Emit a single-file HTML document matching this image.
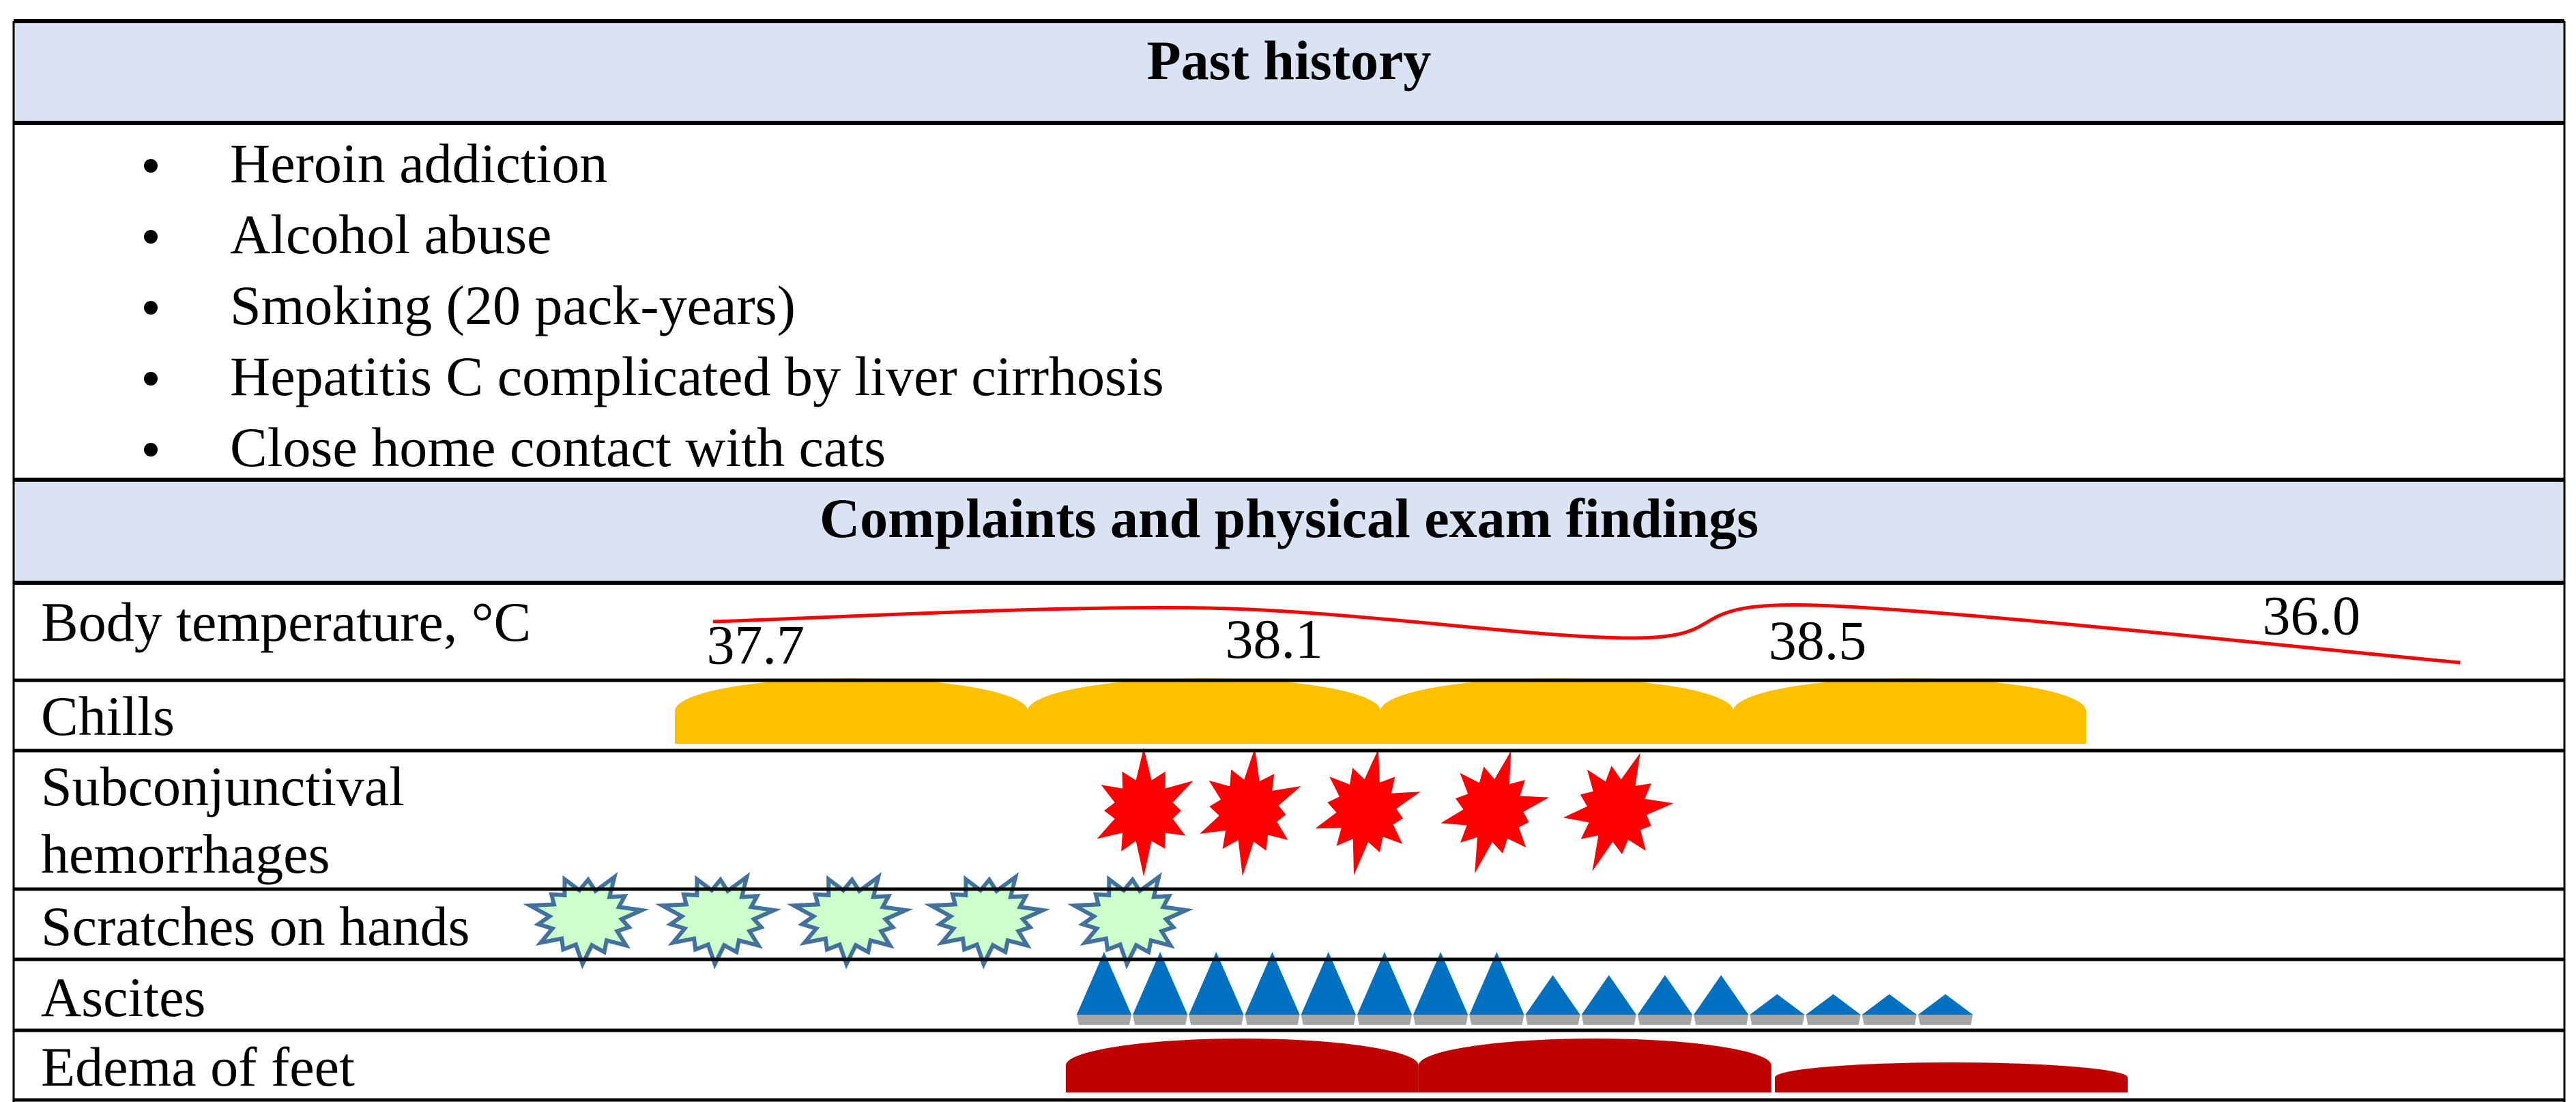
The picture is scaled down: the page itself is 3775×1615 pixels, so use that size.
<!DOCTYPE html>
<html><head><meta charset="utf-8"><style>
html,body{margin:0;padding:0;background:#fff;}
svg{display:block;}
text{font-family:"Liberation Serif","Times New Roman",serif;fill:#000;}
</style></head><body>
<svg id="chart" width="3775" height="1615" viewBox="0 0 3775 1615" xmlns="http://www.w3.org/2000/svg">
<rect x="0" y="0" width="3775" height="1615" fill="#fff"/>
<rect x="20" y="31" width="3738" height="149" fill="#dae3f3"/>
<rect x="20" y="703" width="3738" height="150" fill="#dae3f3"/>
<text x="1889" y="116" text-anchor="middle" font-size="82" font-weight="bold">Past history</text>
<g font-size="82">
<circle cx="221" cy="243" r="10"/><text x="337" y="267">Heroin addiction</text>
<circle cx="221" cy="347" r="10"/><text x="337" y="371">Alcohol abuse</text>
<circle cx="221" cy="451" r="10"/><text x="337" y="475">Smoking (20 pack-years)</text>
<circle cx="221" cy="555" r="10"/><text x="337" y="579">Hepatitis C complicated by liver cirrhosis</text>
<circle cx="221" cy="659" r="10"/><text x="337" y="683">Close home contact with cats</text>
</g>
<text x="1889" y="787" text-anchor="middle" font-size="82" font-weight="bold">Complaints and physical exam findings</text>
<g font-size="82">
<text x="60" y="939">Body temperature, °C</text>
<text x="60" y="1077">Chills</text>
<text x="60" y="1180">Subconjunctival</text>
<text x="60" y="1279">hemorrhages</text>
<text x="60" y="1385">Scratches on hands</text>
<text x="60" y="1489">Ascites</text>
<text x="60" y="1591">Edema of feet</text>
</g>
<g id="marks"></g>
<g stroke="#000" fill="none">
<line x1="20" y1="31" x2="3758" y2="31" stroke-width="6"/>
<line x1="20" y1="180" x2="3758" y2="180" stroke-width="6"/>
<line x1="20" y1="703" x2="3758" y2="703" stroke-width="6"/>
<line x1="20" y1="854" x2="3758" y2="854" stroke-width="6"/>
<line x1="20" y1="997" x2="3758" y2="997" stroke-width="5"/>
<line x1="20" y1="1100" x2="3758" y2="1100" stroke-width="5"/>
<line x1="20" y1="1303" x2="3758" y2="1303" stroke-width="5"/>
<line x1="20" y1="1406" x2="3758" y2="1406" stroke-width="5"/>
<line x1="20" y1="1510" x2="3758" y2="1510" stroke-width="5"/>
<line x1="20" y1="1612" x2="3758" y2="1612" stroke-width="5"/>
<line x1="20" y1="31" x2="20" y2="1615" stroke-width="3"/>
<line x1="3758" y1="31" x2="3758" y2="1615" stroke-width="3"/>
</g>
</svg>
<script>
// ---- data (time in days) ----
const tempDays = [0.108, 1.5, 2.72, 3.23, 5.06];
const tempLevels = [0.55, 0.8, 0.25, 0.85, -0.2];
const tempLabels = ["37.7", "38.1", "38.5", "36.0"];
const tempLabelDays = [0.09, 1.56, 3.1, 4.5];
const tempLabelLevels = [-0.22, -0.11, -0.14, 0.32];
const chillsDays = [0, 1, 2, 3];
const chillsSeverity = [1, 1, 1, 1];
const hemorrhageDays = [1.329, 1.627, 1.96, 2.32, 2.67];
const scratchDays = [-0.253, 0.122, 0.495, 0.884, 1.29];
const ascitesStart = 1.137;
const ascitesStep = 0.159;
const ascitesSeverity = [3, 3, 3, 3, 3, 3, 3, 3, 2, 2, 2, 2, 1, 1, 1, 1];
const edemaDays = [1.108, 2.108, 3.118];
const edemaSeverity = [2, 2, 1];

// ---- scales ----
const dayW = 517;
function x(d) { return 989 + d * dayW; }
function tempY(l) { return 955 - l * 80; }
const NS = "http://www.w3.org/2000/svg";
const g = document.getElementById("marks");
function mk(tag, attrs) { const e = document.createElementNS(NS, tag); for (const k in attrs) e.setAttribute(k, attrs[k]); g.appendChild(e); return e; }

// temperature curve (smooth)
const pts = tempDays.map((d, i) => [x(d), tempY(tempLevels[i])]);
let dstr = "M" + pts[0][0] + "," + pts[0][1];
for (let i = 0; i < pts.length - 1; i++) {
  const p0 = pts[i - 1] || pts[i], p1 = pts[i], p2 = pts[i + 1], p3 = pts[i + 2] || p2;
  const c1x = p1[0] + (p2[0] - p0[0]) / 6, c1y = p1[1] + (p2[1] - p0[1]) / 6;
  const c2x = p2[0] - (p3[0] - p1[0]) / 6, c2y = p2[1] - (p3[1] - p1[1]) / 6;
  dstr += " C" + c1x + "," + c1y + " " + c2x + "," + c2y + " " + p2[0] + "," + p2[1];
}
const tl = mk("path", { d: dstr, fill: "none", stroke: "#ff0000", "stroke-width": 5 });


tempLabels.forEach((t, i) => {
  const e = mk("text", { x: x(tempLabelDays[i]), y: tempY(tempLabelLevels[i]), "font-size": 82 });
  e.textContent = t;
  
  
});

function dome(x0, w, base, h, fill) {
  const side = h * 0.5, ry = h - side;
  return mk("path", { d: `M${x0},${base} L${x0},${base - side} A${w / 2},${ry} 0 0 1 ${x0 + w},${base - side} L${x0 + w},${base} Z`, fill: fill });
}
chillsDays.forEach((d, i) => {
  const e = dome(x(d), dayW, 1090, chillsSeverity[i] * 96, "#ffc000");
  
  
});
edemaDays.forEach((d, i) => {
  const e = dome(x(d), dayW, 1601, edemaSeverity[i] === 2 ? 79 : 44, "#c00000");
  
  
});

// star shapes
const redR = [1.0, 0.72, 0.95, 0.62, 0.8, 0.7, 1.05, 0.75, 0.9, 0.66, 0.82, 0.72];
function star(cx, cy, rx, ry, n, outer, inner, rot) {
  let p = [];
  for (let i = 0; i < n * 2; i++) {
    const a = rot + i * Math.PI / n;
    const r = i % 2 === 0 ? outer[(i / 2) % outer.length] : inner;
    p.push((cx + Math.sin(a) * rx * r).toFixed(1) + "," + (cy - Math.cos(a) * ry * r).toFixed(1));
  }
  return p.join(" ");
}
hemorrhageDays.forEach((d, i) => {
  const e = mk("polygon", { points: star(x(d), 1188, 88, 92, 12, redR, 0.5, 0.1 * i), fill: "#ff0000" });
  
  
});
const scrR = [1.0, 0.8, 0.95, 0.75, 0.9, 0.8, 1.0, 0.78, 0.92, 0.8, 0.96, 0.76, 0.9, 0.82];
scratchDays.forEach((d, i) => {
  const e = mk("polygon", { points: star(x(d), 1345, 88, 68, 14, scrR, 0.6, 0.5), fill: "#ccffcc", stroke: "#41719c", "stroke-width": 6 });
  
  
});

// ascites triangles
ascitesSeverity.forEach((s, i) => {
  const x0 = x(ascitesStart + i * ascitesStep), w = ascitesStep * dayW, base = 1487;
  const h = s === 3 ? 92 : s === 2 ? 58 : 30;
  const sh = mk("polygon", { points: `${x0 + 1},${base} ${x0 + w - 1},${base} ${x0 + w - 4},${base + 15} ${x0 + 4},${base + 15}`, fill: "#a6a6a6" });
  
  
  const e = mk("polygon", { points: `${x0 + 1},${base} ${x0 + w / 2},${base - h} ${x0 + w - 1},${base}`, fill: "#0070c0" });
  
  
});
</script>
</body></html>
